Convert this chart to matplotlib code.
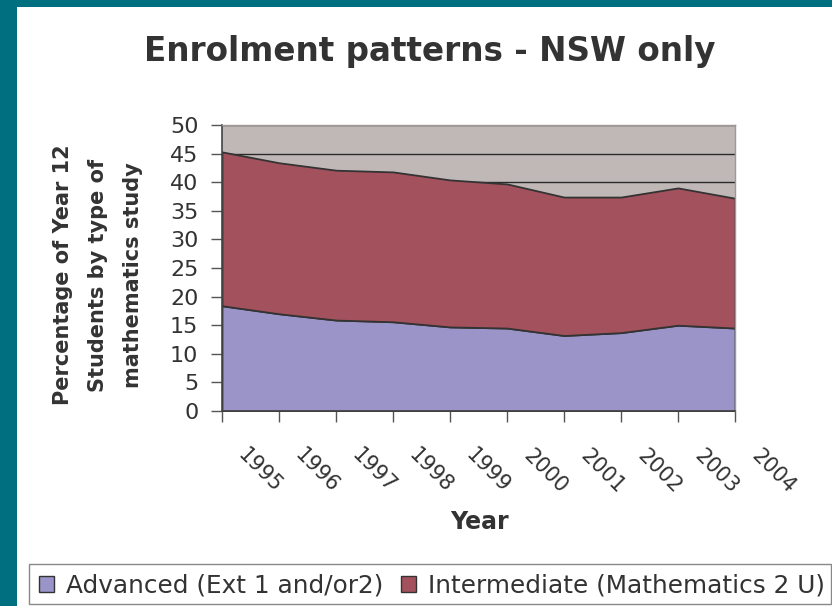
import numpy as np
import matplotlib
matplotlib.use("Agg")
import matplotlib.pyplot as plt
from matplotlib.patches import Rectangle, Patch
from matplotlib.transforms import ScaledTranslation

plt.rcParams['font.family'] = ['DejaVu Sans']

# Data
years = ['1995', '1996', '1997', '1998', '1999', '2000', '2001', '2002', '2003', '2004']
advanced = [18.4, 17.0, 15.9, 15.6, 14.7, 14.5, 13.2, 13.7, 15.0, 14.5]
intermediate = [26.9, 26.4, 26.2, 26.2, 25.7, 25.2, 24.2, 23.7, 24.0, 22.7]
series_names = ['Advanced (Ext 1 and/or2)', 'Intermediate (Mathematics 2 U)']
y_ticks = [0, 5, 10, 15, 20, 25, 30, 35, 40, 45, 50]

teal = '#007080'
c_adv = '#9A94C8'
c_int = '#A4515E'
c_bg = '#C0B8B6'
txt = '#333333'

W, H = 832, 606
fig = plt.figure(figsize=(W / 100, H / 100), dpi=100, facecolor=teal)

# white panel
fig.patches.append(Rectangle((17 / W, 0), 1 - 17 / W, 1 - 7 / H, transform=fig.transFigure,
                             facecolor='white', edgecolor='none', zorder=-1))

ax = fig.add_axes([222 / W, 1 - 411 / H, 513 / W, 286 / H])
ax.set_facecolor(c_bg)

x = np.arange(len(years))
ax.stackplot(x, advanced, intermediate, colors=[c_adv, c_int],
             edgecolor='#333333', linewidth=1.3, zorder=2)

ax.set_xlim(0, len(years) - 1)
ax.set_ylim(0, 50)
ax.set_yticks(y_ticks)
ax.yaxis.grid(True, color='#2a2a2a', linewidth=1.0, zorder=1)
ax.set_axisbelow(True)

# year labels, rotated and shifted below/right of each tick
ax.set_xticks(x)
ax.set_xticklabels([])
off = ScaledTranslation(38 / 100, -60 / 100, fig.dpi_scale_trans)
for xi, yr in zip(x, years):
    ax.text(xi, 0, yr, transform=ax.get_xaxis_transform() + off, rotation=-45,
            ha='center', va='center', fontsize=15, color=txt, clip_on=False)

ax.tick_params(axis='both', direction='out', length=8, width=1, color='#555555',
               labelcolor=txt)
ax.tick_params(axis='y', pad=9, labelsize=16)

for s in ['left', 'bottom']:
    ax.spines[s].set_color('#444444')
    ax.spines[s].set_linewidth(1.2)
for s in ['top', 'right']:
    ax.spines[s].set_color('#a09898')
    ax.spines[s].set_linewidth(1.0)

fig.text(430 / W, 1 - 52 / H, 'Enrolment patterns - NSW only', ha='center', va='center',
         fontsize=23.5, fontweight='bold', color=txt)
fig.text(98 / W, 1 - 275 / H, 'Percentage of Year 12\nStudents by type of\nmathematics study',
         rotation=90, ha='center', va='center', multialignment='center',
         fontsize=15, fontweight='bold', color=txt, linespacing=1.95)
fig.text(480 / W, 1 - 522 / H, 'Year', ha='center', va='center',
         fontsize=17, fontweight='bold', color=txt)

# legend box
fig.patches.append(Rectangle((29 / W, 2 / H), 802 / W, 40 / H, transform=fig.transFigure,
                             facecolor='white', edgecolor='#888888', linewidth=1.0, zorder=1))
handles = [Patch(facecolor=c, edgecolor='#333333', linewidth=1.0) for c in [c_adv, c_int]]
fig.legend(handles, series_names, loc='center left', bbox_to_anchor=(39 / W, 20.5 / H),
           ncol=2, frameon=False, fontsize=17.8, handlelength=0.6, handleheight=0.6,
           handletextpad=0.5, columnspacing=0.7, borderaxespad=0, borderpad=0,
           labelcolor=txt)

fig.savefig('out.png', dpi=100, facecolor=teal)
